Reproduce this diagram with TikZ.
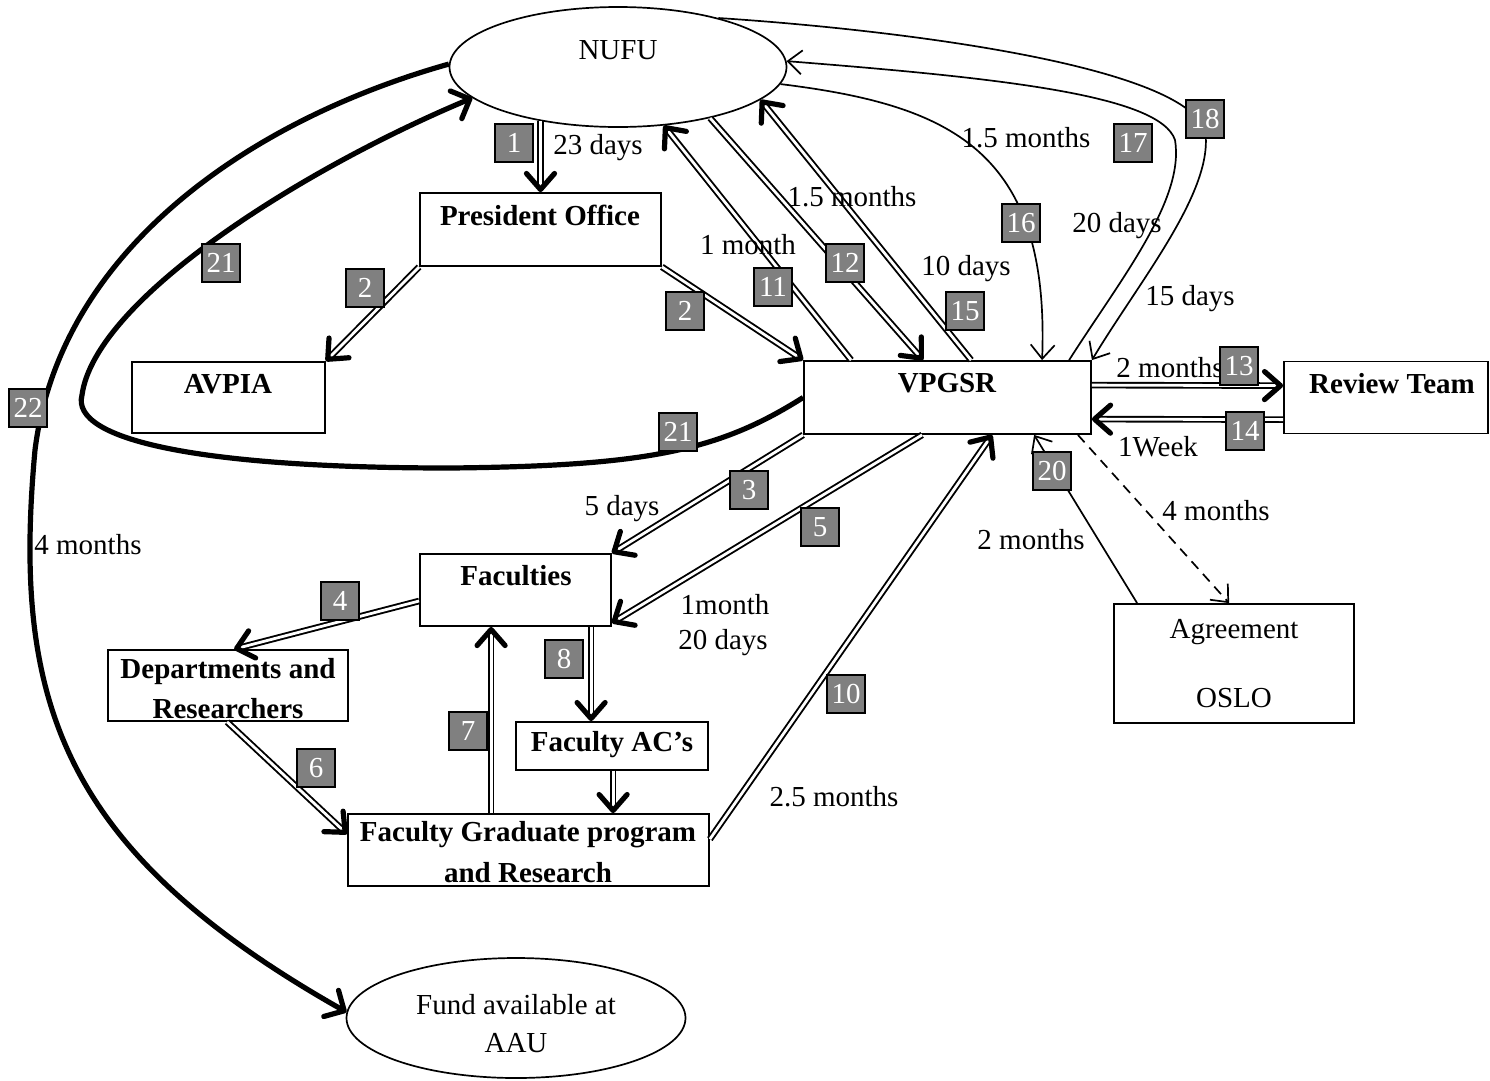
\documentclass[tikz,border=0pt]{standalone}
\usepackage{fontspec}
\setmainfont{Liberation Serif}
\usetikzlibrary{arrows.meta,shapes.geometric,calc}
\begin{document}
\begin{tikzpicture}[x=1pt,y=-1pt,
  every node/.style={font=\fontsize{29}{37}\selectfont, inner sep=0pt},
  box/.style={draw, line width=1.8pt, rectangle},
  oval/.style={draw, line width=1.7pt, ellipse},
  badge/.style={draw=black, fill=gray, text=white, line width=1.5pt, minimum size=38pt},
  dbl/.style={double, line width=1.9pt, double distance=2.8pt,
    -{Straight Barb[length=16pt,width=28pt,line width=5.2pt,round]}},
  thinarr/.style={line width=1.7pt, -{Straight Barb[length=14pt,width=24pt,line width=1.7pt]}},
  dashedarr/.style={thinarr, dash pattern=on 10pt off 7pt},
  thickarr/.style={line width=5.2pt, -{Straight Barb[length=15pt,width=30pt,line width=5.2pt,round]}}]
\useasboundingbox (0,0) rectangle (1490,1080);
% ---- shapes
\node[oval, minimum width=337pt, minimum height=120pt] (nufu) at (618,67) {};
\node[oval, minimum width=339pt, minimum height=120pt] (fund) at (516,1018) {};
\node[box, minimum width=241pt, minimum height=73pt] (po) at (540.5,229.5) {};
\node[box, minimum width=193pt, minimum height=71pt] (avpia) at (228.5,397.5) {};
\node[box, minimum width=287pt, minimum height=73pt] (vp) at (947.5,397.5) {};
\node[box, minimum width=204pt, minimum height=72pt] (rt) at (1386,397.5) {};
\node[box, minimum width=191pt, minimum height=72pt] (fac) at (515.5,590) {};
\node[box, minimum width=240pt, minimum height=71pt] (dep) at (228,685.5) {};
\node[box, minimum width=192pt, minimum height=48pt] (ac) at (612,746) {};
\node[box, minimum width=361pt, minimum height=72pt] (fg) at (528.5,850) {};
\node[box, minimum width=240pt, minimum height=119pt] (agr) at (1234,663.5) {};
% ---- texts in shapes
\node (nufuT) at (618,50) {NUFU};
\node (fundT1) at (516,1005) {Fund available at};
\node (fundT2) at (516,1043) {AAU};
\node (poT) at (540,215) {\bfseries President Office};
\node (avpiaT) at (228,384) {\bfseries AVPIA};
\node (vpT) at (947,383) {\bfseries VPGSR};
\node (rtT) at (1392,384) {\bfseries Review Team};
\node (facT) at (516,576) {\bfseries Faculties};
\node (depT1) at (228,672) {\bfseries Departments and};
\node (depT2) at (228,709) {\bfseries Researchers};
\node (acT) at (612,745) {\bfseries Faculty AC’s};
\node (fgT1) at (528,835) {\bfseries Faculty Graduate program};
\node (fgT2) at (528,873) {\bfseries and Research};
\node (agrT1) at (1234,632) {Agreement};
\node (agrT2) at (1234,698) {OSLO};
% ---- connectors
\draw[dbl] (po.north |- nufu.215) -- (po.north);
\draw[dbl] (po.south west) -- (avpia.north east);
\draw[dbl] (po.south east) -- (vp.north west);
\draw[dbl] ($(vp.north west)+(48,0)$) -- (nufu.308);
\draw[dbl] (nufu.331) -- ($(vp.north west)+(120,0)$);
\draw[dbl] ($(vp.north west)+(168,0)$) -- (nufu.347);
\draw[thinarr] (nufu.354) .. controls (950,105) and (1050,150) .. ($(vp.north west)+(239,0)$);
\draw[thinarr] ($(vp.north west)+(266,0)$) .. controls (1120,280) and (1185,200) .. (1175,140) .. controls (1160,95) and (1000,78) .. (nufu.2);
\draw[thinarr] (nufu.26.5) .. controls (900,30) and (1180,65) .. (1205,130) .. controls (1215,190) and (1140,280) .. (vp.north east);
\draw[dbl] ($(vp.north east)+(0,25)$) -- ($(rt.north west)+(0,25)$);
\draw[dbl] ($(rt.north west)+(0,59)$) -- ($(vp.north east)+(0,59)$);
\draw[dashedarr] ($(vp.south east)+(-14,0)$) -- ($(agr.north west)+(116,0)$);
\draw[thinarr] ($(agr.north west)+(24,0)$) -- ($(vp.south west)+(231,0)$);
\draw[dbl] (vp.south west) -- (fac.north east);
\draw[dbl] ($(vp.south west)+(119,0)$) -- ($(fac.south east)+(0,-4)$);
\draw[dbl] ($(fac.west)+(0,11)$) -- ($(dep.north west)+(127,0)$);
\draw[dbl] ($(dep.south west)+(120,0)$) -- ($(fg.north west)+(0,21)$);
\draw[dbl] ($(fg.north west)+(144,0)$) -- ($(fac.south west)+(72,0)$);
\draw[dbl] ($(fac.south west)+(172,0)$) -- ($(ac.north west)+(76,0)$);
\draw[dbl] ($(ac.south west)+(98,0)$) -- ($(fg.north west)+(266,0)$);
\draw[dbl] ($(fg.north east)+(0,26)$) -- ($(vp.south west)+(189,0)$);
\draw[thickarr] (vp.west) .. controls (720,450) and (650,466) .. (450,468) .. controls (200,468) and (70,440) .. (82,395) .. controls (95,300) and (300,170) .. (nufu.192.5);
\draw[thickarr] (nufu.179) .. controls (250,120) and (60,250) .. (35,450) .. controls (12,700) and (60,850) .. (fund.178);
% ---- labels
\node (l1) at (598,148) {23 days};
\node (l11) at (748,245) {1 month};
\node (l12) at (852,197) {1.5 months};
\node (l15) at (966,269) {10 days};
\node (l16) at (1026,138) {1.5 months};
\node (l17) at (1117,226) {20 days};
\node (l18) at (1190,299) {15 days};
\node (l13) at (1170,368) {2 months};
\node (l14) at (1158,447) {1Week};
\node (l19) at (1216,511) {4 months};
\node (l20) at (1031,540) {2 months};
\node (l3) at (622,509) {5 days};
\node (l5a) at (725,605) {1month};
\node (l5b) at (723,643) {20 days};
\node (l10) at (834,797) {2.5 months};
\node (l22) at (88,545) {4 months};
% ---- badges
\node[badge] (b1) at (514,143) {1};
\node[badge] (b2a) at (365,288) {2};
\node[badge] (b2b) at (685,311) {2};
\node[badge] (b11) at (773,287) {11};
\node[badge] (b12) at (845,263) {12};
\node[badge] (b15) at (965,311) {15};
\node[badge] (b16) at (1021,223) {16};
\node[badge] (b17) at (1133,143) {17};
\node[badge] (b18) at (1205,119) {18};
\node[badge] (b13) at (1239,366) {13};
\node[badge] (b14) at (1245,431) {14};
\node[badge] (b20) at (1052,471) {20};
\node[badge] (b3) at (749,490) {3};
\node[badge] (b5) at (820,527) {5};
\node[badge] (b4) at (340,601) {4};
\node[badge] (b6) at (316,768) {6};
\node[badge] (b7) at (468,731) {7};
\node[badge] (b8) at (564,659) {8};
\node[badge] (b10) at (846,694) {10};
\node[badge] (b21a) at (221,263) {21};
\node[badge] (b21b) at (678,432) {21};
\node[badge] (b22) at (28,408) {22};
\end{tikzpicture}
\end{document}
